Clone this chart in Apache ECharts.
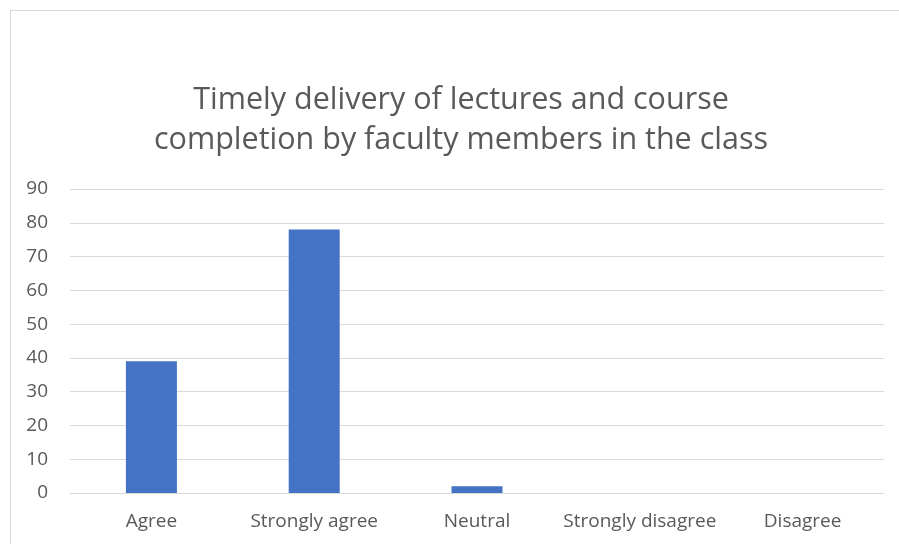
<!DOCTYPE html>
<html>
<head>
<meta charset="utf-8">
<script src="https://cdn.jsdelivr.net/npm/echarts@6/dist/echarts.min.js"></script>
<style>
    html, body { margin: 0; padding: 0; background: #fff; }
    #wrap { position: relative; width: 899px; height: 544px; overflow: hidden; }
    #frame { position: absolute; left: 10px; top: 10px; width: 950px; height: 600px; border: 1px solid #d9d9d9; box-sizing: border-box; }
    #chart { position: absolute; left: 0; top: 0; width: 899px; height: 544px; }
</style>
</head>
<body>
<div id="wrap">
    <div id="frame"></div>
    <div id="chart"></div>
</div>
<script>
    // responses to the survey question
    var categories = ['Agree', 'Strongly agree', 'Neutral', 'Strongly disagree', 'Disagree']
    var counts = [39, 78, 2, 0, 0]
    var titleLines = ['Timely delivery of lectures and course', 'completion by faculty members in the class']

    var font = 'Open Sans'
    var grey = '#595959'

    var option = {
        animation: false,
        title: {
            text: titleLines.join('\n'),
            left: 456,
            top: 75,
            textAlign: 'center',
            textStyle: {
                fontFamily: font,
                fontSize: 30.5,
                fontWeight: 'normal',
                lineHeight: 40,
                color: grey
            }
        },
        grid: {
            left: 70,
            right: 15,
            top: 189,
            bottom: 51
        },
        xAxis: {
            type: 'category',
            data: categories,
            axisLine: { lineStyle: { color: '#d9d9d9', width: 1 } },
            axisTick: { show: false },
            axisLabel: {
                interval: 0,
                color: grey,
                fontFamily: font,
                fontSize: 19,
                margin: 19
            }
        },
        yAxis: {
            type: 'value',
            min: 0,
            max: 90,
            interval: 10,
            axisLine: { show: false },
            axisTick: { show: false },
            axisLabel: {
                color: grey,
                fontFamily: font,
                fontSize: 19,
                margin: 22
            },
            splitLine: { lineStyle: { color: '#d9d9d9', width: 1 } }
        },
        series: [{
            type: 'bar',
            data: counts,
            barWidth: 51,
            itemStyle: { color: '#4472c4' }
        }]
    }

    var chart = echarts.init(document.getElementById('chart'))
    chart.setOption(option)
</script>
</body>
</html>
